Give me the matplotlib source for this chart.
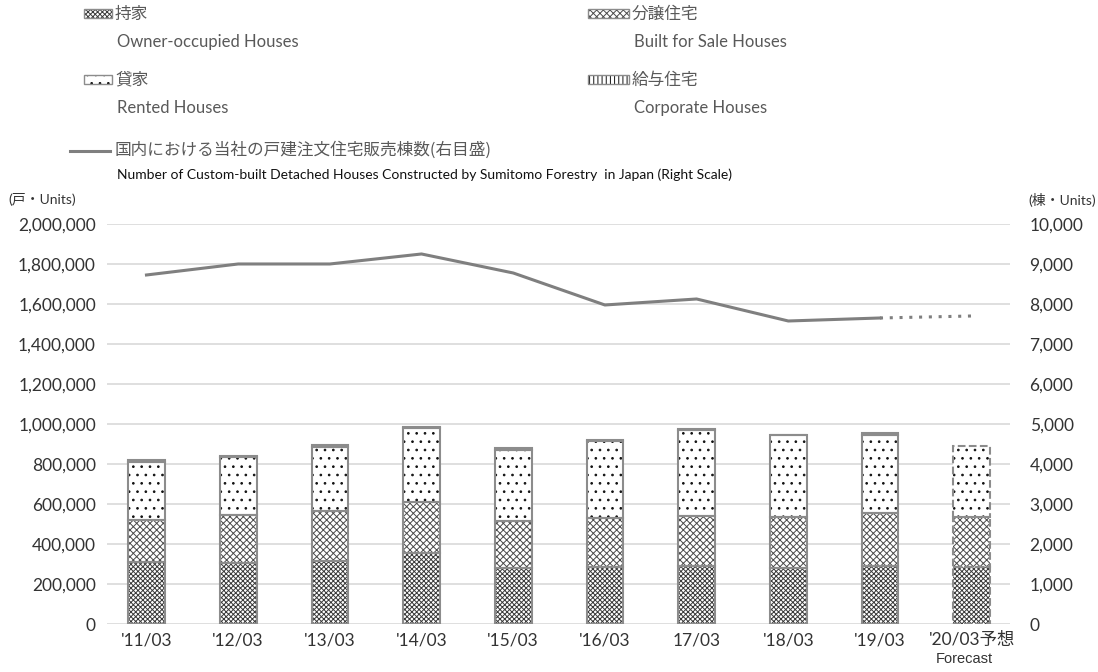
import matplotlib
matplotlib.use('Agg')
import matplotlib.pyplot as plt
from matplotlib.patches import Rectangle
from matplotlib.lines import Line2D
import numpy as np

plt.rcParams['font.family'] = ['Lato', 'Noto Sans CJK JP', 'DejaVu Sans']
plt.rcParams['hatch.linewidth'] = 0.7

# data
years = ["'11/03", "'12/03", "'13/03", "'14/03", "'15/03", "'16/03", "17/03", "'18/03", "'19/03", "'20/03予想"]
owner_occupied = [310000, 305000, 316000, 353000, 278000, 284000, 292000, 282000, 288000, 285000]
built_for_sale = [210000, 239000, 250000, 258000, 236000, 247000, 249000, 251000, 267000, 250000]
rented = [292000, 290000, 321000, 370000, 358000, 384000, 427000, 410000, 390000, 355000]
corporate = [8000, 7000, 6000, 6000, 8000, 6000, 6000, 4000, 8000, 0]
custom_houses = [8725, 9000, 9000, 9250, 8775, 7975, 8125, 7575, 7650, 7700]

series = [
    ('持家', 'Owner-occupied Houses', owner_occupied, 'xxxxxxx', '#3a3a3a'),
    ('分譲住宅', 'Built for Sale Houses', built_for_sale, 'xxxxx', '#4a4a4a'),
    ('貸家', 'Rented Houses', rented, '..', '#111111'),
    ('給与住宅', 'Corporate Houses', corporate, '||||', '#111111'),
]

GRID = '#d9d9d9'
EDGE = '#8c8c8c'
LINE = '#7f7f7f'
TXT = '#595959'

fig = plt.figure(figsize=(10.98, 6.72), dpi=100)
ax = fig.add_axes([0.0975, 0.0714, 0.8225, 0.5953])

x = np.arange(len(years))
w = 0.4
bottom = np.zeros(len(years))
for jp, en, vals, hatch, hc in series:
    vals = np.array(vals, dtype=float)
    ax.bar(x, vals, w, bottom=bottom, color='white', edgecolor=hc,
           hatch=hatch, linewidth=0, zorder=2)
    for i in range(len(x)):
        if vals[i] <= 0:
            continue
        ls = '--' if i == len(x) - 1 else '-'
        ax.bar(x[i], vals[i], w, bottom=bottom[i], fill=False, edgecolor=EDGE,
               linewidth=1.5, linestyle=ls, zorder=3)
    bottom += vals

ax.set_xlim(-0.43, 9.42)
ax.set_ylim(0, 2000000)
ax.set_yticks(np.arange(0, 2000001, 200000))
ax.set_yticklabels([f'{int(v):,}' for v in np.arange(0, 2000001, 200000)])
ax.yaxis.grid(True, color=GRID, linewidth=1.2, zorder=0)
ax.set_axisbelow(True)
for s in ax.spines.values():
    s.set_visible(False)
ax.tick_params(length=0, labelsize=12.5, colors='#333333', pad=8)
ax.set_xticks(x)
ax.set_xticklabels(years)
ax.tick_params(axis='x', pad=6)

ax2 = ax.twinx()
ax2.set_ylim(0, 10000)
ax2.set_yticks(np.arange(0, 10001, 1000))
ax2.set_yticklabels([f'{int(v):,}' for v in np.arange(0, 10001, 1000)])
for s in ax2.spines.values():
    s.set_visible(False)
ax2.tick_params(length=0, labelsize=12.5, colors='#333333', pad=14)
ax2.plot(x[:-1], custom_houses[:-1], color=LINE, linewidth=2.2, zorder=5)
ax2.plot(x[-2:], custom_houses[-2:], color=LINE, linewidth=2.2, linestyle=(0, (1, 2.2)), zorder=5)

fig.text(0.878, 0.0195, 'Forecast', fontsize=10.5, family=['Liberation Sans'],
         color='#333333', ha='center', va='center')

# axis unit labels
fig.text(0.008, 0.703, '(戸・Units)', fontsize=10, color='#333333', va='center',
         family=['Lato', 'Noto Sans CJK JP'])
fig.text(0.937, 0.703, '(棟・Units)', fontsize=10, color='#333333', va='center',
         family=['Lato', 'Noto Sans CJK JP'])

# legend
def swatch(x0, y0, wpx, hpx, hatch, hc):
    fig.add_artist(Rectangle((x0 / 1098, 1 - (y0 + hpx) / 672), wpx / 1098, hpx / 672,
                             transform=fig.transFigure, facecolor='white', edgecolor=hc,
                             hatch=hatch, linewidth=0))
    fig.add_artist(Rectangle((x0 / 1098, 1 - (y0 + hpx) / 672), wpx / 1098, hpx / 672,
                             transform=fig.transFigure, fill=False, edgecolor=EDGE, linewidth=1))

pos = [(84, 115, 8), (588, 632, 8), (84, 115, 74), (588, 632, 74)]
for (jp, en, vals, hatch, hc), (sx, tx, ty) in zip(series, pos):
    swatch(sx, ty + 1, tx - sx - 3, 9, hatch, hc)
    fig.text(tx / 1098, 1 - (ty + 6) / 672, jp, fontsize=12, color=TXT, va='center',
             family=['Noto Sans CJK JP'])
    fig.text((tx + 2) / 1098, 1 - (ty + 34) / 672, en, fontsize=12, color=TXT, va='center')

fig.add_artist(Line2D([70 / 1098, 110 / 1098], [1 - 151 / 672, 1 - 151 / 672],
                      transform=fig.transFigure, color=LINE, linewidth=2.2))
fig.text(115 / 1098, 1 - 150 / 672, '国内における当社の戸建注文住宅販売棟数(右目盛)', fontsize=12,
         color=TXT, va='center', family=['Noto Sans CJK JP'])
fig.text(117 / 1098, 1 - 175 / 672,
         'Number of Custom-built Detached Houses Constructed by Sumitomo Forestry  in Japan (Right Scale)',
         fontsize=10, color='#111111', va='center')

fig.savefig('out.png', dpi=100)
